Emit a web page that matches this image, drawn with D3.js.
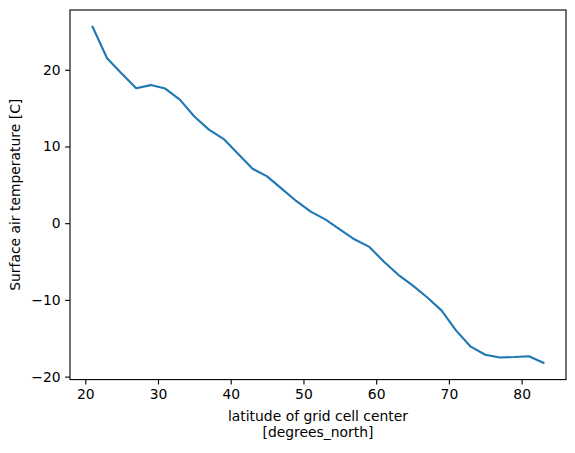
<!DOCTYPE html>
<html>
<head>
<meta charset="utf-8">
<script src="https://cdn.jsdelivr.net/npm/d3@7"></script>
<style>
  body { margin: 0; background: #fff; }
  svg text { font-family: "DejaVu Sans", sans-serif; fill: #000; }
</style>
</head>
<body>
<div id="my_dataviz"></div>
<script>
// latitude of grid cell centres and mean surface air temperature
var lats = [21, 23, 25, 27, 29, 31, 33, 35, 37, 39, 41, 43, 45, 47, 49, 51,
            53, 55, 57, 59, 61, 63, 65, 67, 69, 71, 73, 75, 77, 79, 81, 83];
var temps = [25.6, 21.5, 19.5, 17.6, 18.0, 17.55, 16.1, 13.9, 12.2, 11.0, 9.05, 7.1, 6.1, 4.5, 2.9, 1.5,
             0.5, -0.8, -2.1, -3.05, -4.95, -6.7, -8.1, -9.65, -11.4, -14.0, -16.1, -17.15, -17.5, -17.45, -17.35, -18.2];
var xTicks = [20, 30, 40, 50, 60, 70, 80];
var yTicks = [-20, -10, 0, 10, 20];

var data = lats.map(function(d, i) { return {lat: d, t: temps[i]}; });

// set the dimensions and margins of the graph
var margin = {top: 10, right: 9, bottom: 73.4, left: 70},
    width = 575 - margin.left - margin.right,
    height = 453 - margin.top - margin.bottom;

var svg = d3.select("#my_dataviz")
  .append("svg")
    .attr("width", 575)
    .attr("height", 453)
  .append("g")
    .attr("transform", "translate(" + margin.left + "," + margin.top + ")");

// 5% padding like matplotlib autoscale
function padded(ext) {
  var p = (ext[1] - ext[0]) * 0.05;
  return [ext[0] - p, ext[1] + p];
}

var x = d3.scaleLinear()
  .domain(padded(d3.extent(lats)))
  .range([0, width]);
var y = d3.scaleLinear()
  .domain(padded(d3.extent(temps)))
  .range([height, 0]);

// X axis
var xAxis = svg.append("g")
  .attr("transform", "translate(0," + height + ")")
  .call(d3.axisBottom(x).tickValues(xTicks).tickSize(4.9).tickPadding(4.5).tickFormat(d3.format("d")));
// Y axis
var yAxis = svg.append("g")
  .call(d3.axisLeft(y).tickValues(yTicks).tickSize(4.9).tickPadding(4.5).tickFormat(d3.format("d")));

[xAxis, yAxis].forEach(function(a) {
  a.select(".domain").remove();
  a.selectAll("line").attr("stroke", "#000").attr("stroke-width", 1.1);
  a.selectAll("text").style("font-size", "13.9px").style("font-family", "DejaVu Sans, sans-serif");
});

// frame
svg.append("rect")
  .attr("x", 0).attr("y", 0)
  .attr("width", width).attr("height", height)
  .attr("fill", "none")
  .attr("stroke", "#000")
  .attr("stroke-width", 1.1);

// the line
svg.append("path")
  .datum(data)
  .attr("fill", "none")
  .attr("stroke", "#1f77b4")
  .attr("stroke-width", 2.1)
  .attr("stroke-linejoin", "round")
  .attr("stroke-linecap", "square")
  .attr("d", d3.line()
    .x(function(d) { return x(d.lat); })
    .y(function(d) { return y(d.t); }));

// axis labels
svg.append("text")
  .attr("x", width / 2)
  .attr("y", height + 41)
  .style("text-anchor", "middle")
  .style("font-size", "13.9px")
  .text("latitude of grid cell center");
svg.append("text")
  .attr("x", width / 2)
  .attr("y", height + 57.2)
  .style("text-anchor", "middle")
  .style("font-size", "13.9px")
  .text("[degrees_north]");

svg.append("text")
  .attr("transform", "translate(-50.5," + (height / 2) + ") rotate(-90)")
  .style("text-anchor", "middle")
  .style("font-size", "13.9px")
  .text("Surface air temperature [C]");
</script>
</body>
</html>
